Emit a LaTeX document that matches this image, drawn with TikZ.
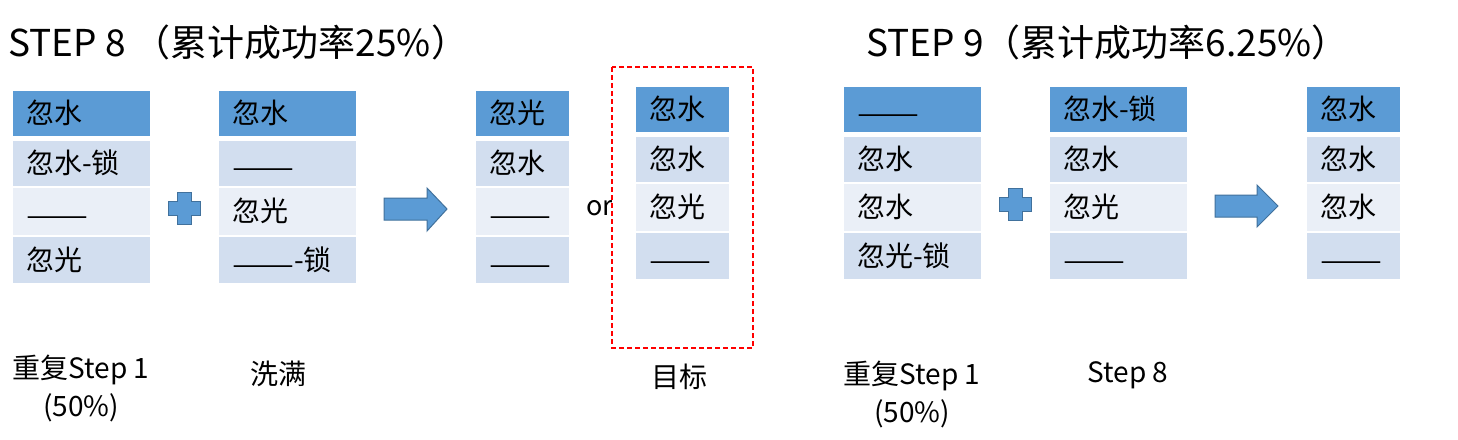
\documentclass[tikz,border=0pt]{standalone}
\usepackage{fontspec}
\usepackage{graphicx}
\setmainfont{Noto Sans CJK SC}
\definecolor{hdr}{HTML}{5B9BD5}
\definecolor{rowA}{HTML}{D2DEEF}
\definecolor{rowB}{HTML}{EAEFF7}
\definecolor{shapeedge}{HTML}{41719C}
\definecolor{goalred}{HTML}{FF0000}
\tikzset{
 cell/.style={anchor=north west, inner xsep=13pt, inner ysep=0pt, text height=21pt, text depth=1pt, font=\fontsize{28}{30}\selectfont},
 hdrcell/.style={cell, fill=hdr},
 darkcell/.style={cell, fill=rowA},
 lightcell/.style={cell, fill=rowB},
 bluefig/.style={fill=hdr, draw=shapeedge, line width=1pt, line join=miter},
 title/.style={anchor=west, inner sep=0pt, font=\fontsize{37}{40}\selectfont},
 caption/.style={inner sep=0pt, align=center, font=\fontsize{28}{38}\selectfont},
 goal/.style={draw=goalred, dashed, line width=1.3pt, fill=white, dash pattern=on 5pt off 3pt}
}
\newcommand\dsh{\raisebox{-4pt}{\scalebox{1.32}[1]{——}}}
\newcommand\mktable[8]{%
 \pgfmathsetmacro\tw{#4-26}%
 \node[hdrcell, minimum height=45pt] (#1a) at (#2,#3) {\makebox[\tw pt][l]{#5}};
 \node[darkcell, minimum height=45pt] (#1b) at (#2,#3+50) {\makebox[\tw pt][l]{#6}};
 \node[lightcell, minimum height=47pt] (#1c) at (#2,#3+97) {\makebox[\tw pt][l]{#7}};
 \node[darkcell, minimum height=46pt] (#1d) at (#2,#3+146) {\makebox[\tw pt][l]{#8}};
}
\newcommand\mkplus[2]{%
 \draw[bluefig] (#1-7,#2-16) -- (#1+7,#2-16) -- (#1+7,#2-7) -- (#1+16,#2-7) -- (#1+16,#2+7) -- (#1+7,#2+7) -- (#1+7,#2+16) -- (#1-7,#2+16) -- (#1-7,#2+7) -- (#1-16,#2+7) -- (#1-16,#2-7) -- (#1-7,#2-7) -- cycle;
}
\begin{document}
\begin{tikzpicture}[x=1pt, y=-1pt]
\useasboundingbox[fill=white] (0,0) rectangle (1458,439);

% titles
\node[title] (t1) at (8,42) {STEP 8 （累计成功率25\%）};
\node[title] (t2) at (866,42) {STEP 9（累计成功率6.25\%）};

% step 8
\mktable{ta}{13}{91}{137}{忽水}{忽水-锁}{\dsh}{忽光}
\mkplus{184}{208}
\mktable{tb}{219}{91}{137}{忽水}{\dsh}{忽光}{\dsh-锁}
\draw[bluefig] (384,198) -- (427,198) -- (427,188) -- (447,209) -- (427,231) -- (427,220) -- (384,220) -- cycle;
\mktable{tc}{476}{91}{93}{忽光}{忽水}{\dsh}{\dsh}
\node[anchor=west, inner sep=0pt, font=\fontsize{27}{30}\selectfont] (or) at (586,208) {or};
\draw[goal] (612,67) rectangle (753,348);
\mktable{td}{636}{87}{93}{忽水}{忽水}{忽光}{\dsh}

% step 9
\mktable{te}{844}{87}{137}{\dsh}{忽水}{忽水}{忽光-锁}
\mkplus{1015}{204}
\mktable{tf}{1050}{87}{137}{忽水-锁}{忽水}{忽光}{\dsh}
\draw[bluefig] (1215,195) -- (1257,195) -- (1257,185) -- (1278,206) -- (1257,227) -- (1257,217) -- (1215,217) -- cycle;
\mktable{tg}{1307}{87}{93}{忽水}{忽水}{忽水}{\dsh}

% captions
\node[caption] (c1) at (81,388) {重复Step 1\\(50\%)};
\node[caption] (c2) at (278,374) {洗满};
\node[caption] (c3) at (679,377) {目标};
\node[caption] (c4) at (912,394) {重复Step 1\\(50\%)};
\node[caption] (c5) at (1128,375) {Step 8};
\end{tikzpicture}
\end{document}
